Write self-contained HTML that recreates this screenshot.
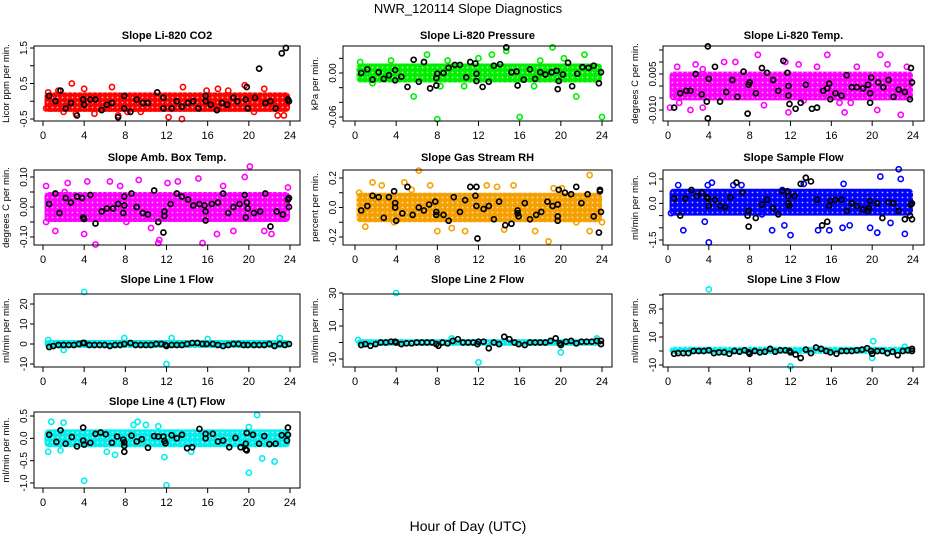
<!DOCTYPE html>
<html><head><meta charset="utf-8"><style>
html,body{margin:0;padding:0;background:#fff;}
svg{display:block;font-family:"Liberation Sans",Arial,sans-serif;}
</style></head><body>
<svg id="chart" width="936" height="540" viewBox="0 0 936 540" xmlns="http://www.w3.org/2000/svg">
<text x="468" y="13" text-anchor="middle" font-size="13">NWR_120114  Slope Diagnostics</text>
<text x="468" y="531" text-anchor="middle" font-size="14">Hour of Day (UTC)</text>
</svg>
<script>
const xTicks=[0,4,8,12,16,20,24];
// CO2
const co2Band=[-0.3,0.25];
const co2Color=[2.8,0.5,6.7,0.4,13.6,0.4,19.6,0.45,12.2,-0.45,13.5,-0.5,7.3,-0.4,3.2,-0.35,22.8,-0.4,23.4,-0.4,1.5,0.3,15.9,0.3,4,0.35,17,0.35,21.5,0.35,0.3,-0.2,0.5,0.25,8.2,-0.3,10.5,0.1,5,-0.35,9.5,-0.3,18,0.3,20.5,-0.3,2,-0.3];
const co2Black=[0.6,0.15,1.2,0,1.7,0.3,2.2,-0.2,2.7,-0.05,3.3,-0.4,3.9,0.05,4.0,-0.1,4.6,0.05,5.1,0.05,5.7,-0.25,6.2,-0.1,6.7,-0.05,7.3,-0.45,7.9,0.15,7.9,-0.2,8.5,-0.3,9.1,0.05,9.7,-0.05,10.2,-0.05,11.1,0.25,11.7,0.1,11.7,-0.2,12.5,-0.2,13.0,0,13.5,-0.15,14.1,-0.05,14.6,0,15.1,-0.2,15.8,0.15,15.8,0,16.3,-0.1,16.9,-0.25,17.4,-0.05,17.9,-0.1,18.5,0.1,18.9,0.0,19.7,0.05,19.8,0.4,19.9,-0.2,20.6,0.1,21.0,0.92,21.6,-0.05,22.1,0.0,22.6,-0.2,23.2,1.35,23.6,1.5,23.8,0.05,23.9,0.0];
const co2Ticks=[-0.5,0,0.5,1,1.5];const co2Labels=["-0.5","","0.5","","1.5"];
// Pressure
const presBand=[-0.013,0.013];
const presColor=[8,-0.063,16,-0.06,24,-0.06,5.7,-0.032,21.5,-0.032,19.2,0.035,14.7,0.03,13.3,0.025,7,0.025,22.3,0.025,8.3,-0.018,17.4,-0.018,10.6,-0.018,1.7,-0.014,0.5,0.015,3.5,0.017,9,0.017,12,0.02,18,0.017,20.3,0.02];
const presBlack=[0.6,0,1.2,0.005,1.7,-0.009,2.3,0.001,2.8,-0.008,3.3,-0.003,3.9,0.004,3.9,-0.01,4.5,-0.005,5.1,-0.019,5.7,0.018,6.2,-0.012,6.7,0.015,7.3,-0.021,7.9,-0.007,7.9,-0.017,8,-0.001,8.6,0,9.1,0.007,9.7,0.011,10.2,0.011,10.8,-0.006,11.2,0.015,11.7,0.013,11.8,-0.001,11.8,-0.011,12.4,-0.019,13,-0.012,13.5,0.01,14.1,0.012,14.7,0.035,15.2,0.001,15.7,0.002,15.8,-0.017,16.4,-0.009,17,0.005,17.5,-0.008,18,0.001,18.5,-0.002,19.1,0.001,19.6,0.003,19.7,-0.022,19.8,-0.011,20.2,-0.002,20.7,0.014,21.1,-0.018,21.6,-0.001,22.1,0.008,22.7,0.007,23.2,0.01,23.7,-0.014,23.9,0.001];
const presTicks=[-0.06,-0.04,-0.02,0,0.02];const presLabels=["-0.06","","","0.00",""];
// Li-820 Temp
const tempBand=[-0.006,0.006];
const tempColor=[8.8,0.013,15.6,0.013,20.8,0.013,22.8,-0.012,0.9,0.008,2.7,0.009,1.1,-0.007,0.2,-0.009,2.2,-0.010,3.4,-0.009,6.6,0.01,11.5,0.01,12.8,0.009,21.5,0.009,23.4,0.008,9.4,-0.008,11.8,-0.011,17.3,-0.011,20.5,-0.010,13.3,-0.006,16.8,-0.007,5.5,0.01,14.6,0.008,17.9,-0.007,18.5,0.008,3.4,0.007];
const tempBlack=[0.6,-0.009,1.2,-0.003,1.8,-0.002,2.2,-0.002,2.7,0.005,3.3,-0.0035,3.8,-0.0065,3.9,0.0165,3.9,-0.0135,4.0,0.003,4.6,0.008,5.1,-0.0065,5.7,-0.0025,6.3,0.0025,6.8,-0.0045,7.4,0.006,7.8,-0.0115,7.9,0.0005,8,0.0015,8.6,-0.003,9.2,0.0075,9.7,0.0055,10.3,0.0025,10.8,-0.002,11.3,0.0105,11.7,0.0055,11.8,0,11.8,-0.004,11.9,-0.0075,12.5,-0.0095,13,-0.007,13.5,0.0005,14.1,-0.0095,14.6,-0.009,15.2,-0.002,15.6,-0.001,15.8,0.001,15.9,-0.0055,16.4,-0.003,17,-0.004,17.5,0.0045,18,-0.0005,18.5,-0.0005,19.1,-0.001,19.6,0.0005,19.8,-0.003,19.8,-0.007,19.9,0.0035,20.6,0.0015,21.1,-0.0005,21.6,0.0025,22.1,-0.0045,22.6,-0.0015,23.2,-0.0025,23.7,-0.0055,23.8,0.0075,23.9,0.0015];
const tempTicks=[-0.010,-0.005,0,0.005,0.010,0.015];const tempLabels=["-0.010","","","0.005","",""];
// Amb Box Temp
const ambBand=[-0.05,0.05];
const ambColor=[20.1,0.135,19.6,0.1,15.1,0.095,12.1,0.08,4.3,0.085,2.4,0.08,0.3,0.07,11.2,-0.12,5.1,-0.125,15.5,-0.12,4,-0.09,16.9,-0.09,22.2,-0.09,1.2,-0.08,9.3,0.09,6.5,0.085,13.1,0.085,23.8,0.065,11.3,-0.11,0.3,-0.05,18.5,-0.08,21.5,-0.08,8.1,-0.05,10.5,-0.07,2.1,0.05,7.5,0.07,17.5,0.07];
const ambBlack=[0.6,0.01,1.2,0.045,1.6,-0.02,2.2,0.03,2.7,0.015,3.3,0.035,3.8,0.03,3.9,-0.035,4.0,-0.04,4.6,0.04,5.1,-0.055,5.7,-0.015,6.2,-0.005,6.8,-0.005,7.3,0.01,7.8,-0.02,7.9,0.035,7.9,0.005,8.6,0.045,9.1,0,9.7,-0.02,10.2,-0.025,10.8,0.055,11.2,-0.05,11.7,-0.085,11.8,-0.015,11.8,-0.03,12.4,0.01,13,0.045,13.5,0.035,14.1,0.025,14.6,0.005,15.2,0.01,15.7,0.005,15.8,-0.015,15.8,-0.045,16.4,0.01,17,0.015,17.5,0.045,18,-0.02,18.5,0,19.1,0.01,19.6,0.04,19.7,-0.035,19.8,0.015,19.9,-0.005,20.5,-0.02,21.1,-0.015,21.6,0.045,22.1,-0.065,22.7,-0.015,23.3,-0.025,23.8,0.025,23.9,0.03,23.9,0.0];
const ambTicks=[-0.10,-0.05,0,0.05,0.10];const ambLabels=["-0.10","","0.00","","0.10"];
// Gas Stream RH
const rhBand=[-0.1,0.1];
const rhColor=[6.2,0.25,22.8,0.22,18.8,-0.23,1.7,0.17,4.8,0.17,7.3,0.15,2.6,0.15,12.8,0.15,15.4,0.15,0.4,0.1,1.0,-0.13,8,-0.16,10.7,-0.16,17.5,-0.16,22.8,-0.16,14.5,-0.15,9.4,-0.14,20.1,0.13,13.8,0.14,5.5,0.12,19.3,0.13,3.8,-0.1,21.5,-0.1,24,-0.1];
const rhBlack=[0.6,-0.02,1.2,0.01,1.7,0.08,2.3,0.07,2.8,-0.07,3.3,0.07,3.8,0.11,3.9,0.03,3.9,0.0,4,-0.09,4.6,-0.04,5.1,0.14,5.6,-0.05,6.2,0.0,6.7,-0.02,7.2,0.02,7.8,0.04,7.9,-0.05,7.9,-0.03,8.6,-0.05,9.1,-0.09,9.6,0.07,10.2,-0.03,10.7,0.05,11.2,0.14,11.7,0.08,11.8,0.14,11.8,0.01,11.9,-0.21,12.5,-0.01,13,0.01,13.5,-0.08,14,0.04,14.6,-0.12,15.2,-0.11,15.8,-0.02,15.8,-0.04,15.9,-0.06,16.5,0.03,17,-0.08,17.6,-0.05,18.1,-0.03,18.7,0.04,19.2,0.01,19.7,0.02,19.7,-0.06,19.7,-0.09,19.8,0.12,20.4,0.1,21,0.09,21.5,0.14,22,0.03,22.6,0.09,23.2,-0.06,23.7,-0.17,23.8,0.11,23.8,0.12,23.9,-0.03];
const rhTicks=[-0.2,-0.1,0,0.1,0.2];const rhLabels=["-0.2","","0.0","","0.2"];
// Sample Flow
const sfBand=[-0.5,0.6];
const sfColor=[22.6,1.4,20.8,1.1,22.8,1.0,4,-1.6,1.5,-1.1,12,-1.3,20.5,-1.2,23.2,-1.25,10.2,-1.1,14.7,-1.1,17.1,-1.0,15.8,-1.1,19.8,-1.0,11.4,-0.9,3.6,-0.75,21.8,-0.8,3.9,0.75,4.3,0.85,7.2,0.75,17.2,0.8,11.2,0.55,0.3,-0.4,9.2,-0.45,17.8,-0.9,6.4,0.75,1,0.75,13.3,0.8];
const sfBlack=[0.6,0.2,1.2,-0.5,1.7,0.2,2.3,0.55,2.8,0.3,3.3,0.45,3.8,0.25,3.9,0.2,4,-0.1,4.6,0.15,5.1,-0.1,5.6,-0.15,6.1,0.25,6.7,0.85,7.3,0.45,7.8,-0.5,7.9,-0.3,7.9,-0.95,8.6,-0.6,9.2,-0.05,9.7,0.15,10.3,-0.2,10.8,-0.45,11.2,0.5,11.7,0.5,11.8,0.3,11.8,0.0,11.9,-0.1,12.4,0.3,13,0.8,13.5,1.05,14,0.9,14.6,0.15,15.1,-0.9,15.6,-0.75,15.8,-0.1,15.9,0.1,16.4,0.15,17,0.15,17.5,-0.3,18,0.0,18.5,-0.1,19.1,-0.25,19.6,-0.3,19.7,-0.2,19.8,0.1,20.5,0.0,21,-0.6,21.6,0.05,22.1,0.0,22.6,-0.3,23.2,-0.65,23.7,-0.5,23.8,-0.05,23.9,-0.65,23.9,0.0];
const sfTicks=[-1.5,-1,-0.5,0,0.5,1.0];const sfLabels=["-1.5","","","0.0","","1.0"];
// Line 1 Flow
const l1Band=[-2,2];
const l1Color=[4,26,12,-10,2,-3,7.9,3,23,3,0.5,2,16,2.5,12.5,3];
const l1Black=[0.6,-1.5,1,-1,1.5,-0.5,2,-0.5,2.5,-0.5,3,-0.5,3.5,0,3.9,0.5,4,0.5,4.5,-0.5,5,-0.5,5.5,-0.5,6,-0.5,6.5,-1,7,-0.5,7.5,-0.5,7.9,0,8.5,0.5,9,-0.5,9.5,-0.5,10,-0.5,10.5,-0.5,11,0,11.5,0,11.9,-0.5,12,-1,12.5,-0.5,13,-0.5,13.5,-0.5,14,0,14.5,0.5,15,0.5,15.5,0,15.9,0,16.5,0,17,-0.5,17.5,-1,18,-0.5,18.5,0,19,0,19.5,-0.5,19.9,-0.5,20.5,-0.5,21,-0.5,21.5,-0.5,22,0,22.5,-1,23,0,23.5,-0.5,23.9,0];
const l1Ticks=[-10,0,10,20];const l1Labels=["-10","0","10","20"];
// Line 2 Flow
const l2Band=[-2,2];
const l2Color=[4,30,12,-12,20,-6,23.5,2.5,9.4,2.5,0.3,1.5];
const l2Black=[0.6,-1.5,1,-1,1.5,-2,2,-1,2.5,0,3,0,3.5,0.5,3.9,0.5,4,0,4.5,-1,5,-0.5,5.5,-0.5,6,0,6.5,0,7,0,7.5,0,7.9,-1,8.1,-2,8.5,0,9,-0.5,9.5,1,10,2,10.5,0,11,0,11.5,0,11.9,-1,12,0.5,12.5,0.5,13,-3.5,13.5,0,14,-1,14.5,3.5,15,2,15.5,0,15.9,-1,16.5,-1.5,17,0,17.5,0,18,0,18.5,0,19,1,19.5,2.5,19.9,-0.5,20,-1.5,20.5,0.5,21,1,21.5,-0.5,22,0.5,22.5,0.5,23,0.5,23.5,1,23.9,-1,23.9,1];
const l2Ticks=[-10,0,10,20,30];const l2Labels=["-10","","10","","30"];
// Line 3 Flow
const l3Band=[-2,3];
const l3Color=[4,44,12,-11,20,-5,20.1,7,23.2,3];
const l3Black=[0.6,-2,1,-1.5,1.5,-1.5,2,-1.5,2.5,0,3,0,3.5,0,4,0.5,4.5,-1.5,5,-1,5.5,-1,6,-2,6.5,0,7,-0.5,7.5,0.5,7.9,-1,8,-2,8.5,0,9,-1,9.5,-0.5,10,1.5,10.5,-0.5,11,0.5,11.5,0.5,11.9,0,12,-1,12.5,-2.5,13,-5,13.5,1,14,-1.5,14.5,2.5,15,1.5,15.5,0,15.9,-1,16.5,-2,17,0,17.5,0,18,0,18.5,0.5,19,1,19.5,2,19.9,0,20,-2,20.5,0,21,0,21.5,-1.5,22,-0.5,22.5,-3,23,0,23.5,0.5,23.9,0,23.9,1.5];
const l3Ticks=[-10,0,10,20,30,40];const l3Labels=["-10","","10","","30",""];
// Line 4 (LT) Flow
const l4Band=[-0.2,0.2];
const l4Color=[20.8,0.52,4,-0.95,12,-1.05,20,-0.77,22.5,-0.52,21.3,-0.45,11.8,-0.42,0.8,0.37,0.5,-0.3,9.2,0.37,2,0.35,8.8,0.3,10,0.3,14.4,-0.3,1.7,-0.27,6.2,-0.3,7,-0.37,11.2,0.27,20,0.25];
const l4Black=[0.6,0.08,1.3,-0.08,1.7,0.18,2.2,-0.12,2.8,0.03,3.3,-0.18,3.9,0.24,3.9,-0.05,4,-0.14,4.6,-0.1,5.1,0.1,5.6,0.13,6.1,0.09,6.7,-0.1,7.2,0.04,7.8,-0.03,7.9,-0.09,7.9,-0.17,7.9,-0.3,8.6,0.06,9.1,-0.07,9.6,-0.02,10.2,-0.21,10.8,0.05,11.2,0.04,11.7,0.04,11.8,-0.06,11.9,-0.11,12.5,0.07,13,0,13.5,0.08,14,-0.22,14.5,-0.2,15.2,0.21,15.8,0.1,15.8,0.0,16.5,0.1,17,-0.07,17.5,-0.05,18.1,-0.2,18.7,0.01,19.2,-0.2,19.7,-0.12,19.7,-0.25,19.8,-0.27,19.8,0.12,20.4,0.08,21,-0.12,21.5,0.05,22,-0.13,22.6,-0.12,23.2,0.07,23.7,-0.05,23.8,0.24,23.8,0.08];
const l4Ticks=[-1.0,-0.5,0,0.5];const l4Labels=["-1.0","-0.5","0.0","0.5"];

const NS="http://www.w3.org/2000/svg";
const svg=document.getElementById('chart');
const cols=[{l:34,r:300,x0:43,x24:290},{l:343,r:612,x0:355,x24:602},{l:663,r:924,x0:668,x24:913}];
const rows=[{t:46,b:121,tt:39},{t:170,b:245,tt:161},{t:294,b:367,tt:283},{t:412,b:488,tt:405}];
const panels=[
 ["co2","Slope Li-820 CO2","Licor ppm per min.",0,0,"#ff0000",co2Band,co2Color,co2Black,co2Ticks,co2Labels,[1.5,48],[-0.5,119]],
 ["pressure","Slope Li-820 Pressure","kPa per min.",1,0,"#00ee00",presBand,presColor,presBlack,presTicks,presLabels,[0,73],[-0.06,117]],
 ["temp","Slope Li-820 Temp.","degrees C per min.",2,0,"#ff00ff",tempBand,tempColor,tempBlack,tempTicks,tempLabels,[0.005,74],[-0.010,110]],
 ["amb-box-temp","Slope Amb. Box Temp.","degrees C per min.",0,1,"#ff00ff",ambBand,ambColor,ambBlack,ambTicks,ambLabels,[0.10,177],[-0.10,237]],
 ["gas-stream-rh","Slope Gas Stream RH","percent per min.",1,1,"#f5a000",rhBand,rhColor,rhBlack,rhTicks,rhLabels,[0.2,178],[-0.2,237]],
 ["sample-flow","Slope Sample Flow","ml/min per min.",2,1,"#0000ff",sfBand,sfColor,sfBlack,sfTicks,sfLabels,[1.0,179],[-1.5,240]],
 ["line1-flow","Slope Line 1 Flow","ml/min per min.",0,2,"#00eeee",l1Band,l1Color,l1Black,l1Ticks,l1Labels,[20,304],[-10,364]],
 ["line2-flow","Slope Line 2 Flow","ml/min per min.",1,2,"#00eeee",l2Band,l2Color,l2Black,l2Ticks,l2Labels,[30,293],[-10,359]],
 ["line3-flow","Slope Line 3 Flow","ml/min per min.",2,2,"#00eeee",l3Band,l3Color,l3Black,l3Ticks,l3Labels,[30,309],[-10,365]],
 ["line4-flow","Slope Line 4 (LT) Flow","ml/min per min.",0,3,"#00eeee",l4Band,l4Color,l4Black,l4Ticks,l4Labels,[0.5,416],[-1.0,483]]
];
function mk(tag,attrs,parent){const e=document.createElementNS(NS,tag);for(const k in attrs)e.setAttribute(k,attrs[k]);(parent||svg).appendChild(e);return e;}
const defs=mk('defs',{});
panels.forEach(p=>{
 const [id,title,ylab,ci,ri,color,band,cpts,bpts,ticks,labels,r1,r2]=p;
 const c=cols[ci],r=rows[ri];
 const xs=v=>c.x0+(c.x24-c.x0)*v/24;
 const ys=v=>r1[1]+(v-r1[0])*(r2[1]-r1[1])/(r2[0]-r1[0]);
 const pat=mk('pattern',{id:'pat-'+id,width:5,height:5,patternUnits:'userSpaceOnUse'},defs);
 mk('rect',{x:0,y:0,width:5,height:5,fill:color},pat);
 mk('circle',{cx:2.5,cy:2.5,r:0.9,fill:'#fff','fill-opacity':0.7},pat);
 const g=mk('g',{});
 
 
 const t=mk('text',{x:(c.l+c.r)/2,y:r.tt,'text-anchor':'middle','font-size':11,'font-weight':'bold'},g);
 t.textContent=title;
 
 
 const bd=mk('rect',{x:xs(0.15),y:ys(band[1]),width:xs(24)-xs(0.15),height:ys(band[0])-ys(band[1]),fill:'url(#pat-'+id+')',rx:4},g);
 
 
 for(let i=0;i<cpts.length;i+=2){
  const e=mk('circle',{cx:xs(cpts[i]),cy:ys(cpts[i+1]),r:2.6,fill:'none',stroke:color,'stroke-width':1.6},g);
  
  
 }
 for(let i=0;i<bpts.length;i+=2){
  const e=mk('circle',{cx:xs(bpts[i]),cy:ys(bpts[i+1]),r:2.5,fill:'none',stroke:'#000','stroke-width':1.7},g);
  
  
 }
 const box=mk('rect',{x:c.l,y:r.t,width:c.r-c.l,height:r.b-r.t,fill:'none',stroke:'#000','stroke-width':1},g);
 
 
 xTicks.forEach(v=>{
  mk('line',{x1:xs(v),x2:xs(v),y1:r.b,y2:r.b+5,stroke:'#000'},g);
  const tl=mk('text',{x:xs(v),y:r.b+18,'text-anchor':'middle','font-size':11},g);
  tl.textContent=v;
  
  
 });
 ticks.forEach((v,i)=>{
  const y=ys(v);
  mk('line',{x1:c.l-4,x2:c.l,y1:y,y2:y,stroke:'#000'},g);
  if(labels[i]){
   const tl=mk('text',{x:c.l-7,y:y,'text-anchor':'middle','font-size':10,transform:`rotate(-90 ${c.l-7} ${y})`},g);
   tl.textContent=labels[i];
   
   
  }
 });
 const yl=c.l-25,ym=(r.t+r.b)/2;
 const yt=mk('text',{x:yl,y:ym,'text-anchor':'middle','font-size':9.5,transform:`rotate(-90 ${yl} ${ym})`},g);
 yt.textContent=ylab;
 
 
});
</script>
</body></html>
